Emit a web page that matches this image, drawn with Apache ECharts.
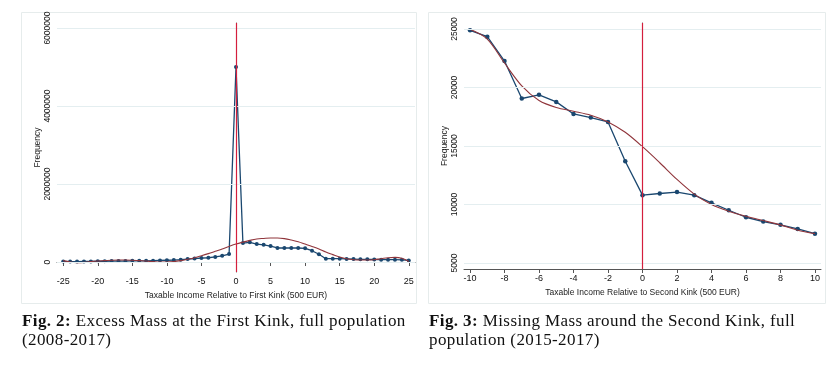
<!DOCTYPE html>
<html>
<head>
<meta charset="utf-8">
<script src="https://cdn.jsdelivr.net/npm/echarts@6/dist/echarts.min.js"></script>
<style>
  html, body { margin:0; padding:0; background:#fff; }
  #wrap { position:relative; width:836px; height:366px; overflow:hidden; }
  #chart { position:absolute; left:0; top:0; width:836px; height:366px; }
  .cap { position:absolute; font-family:"Liberation Serif","DejaVu Serif",serif; font-size:17px; letter-spacing:0.4px; line-height:19px; color:#111; white-space:nowrap; }
  .cap b { font-weight:bold; }
</style>
</head>
<body>
<div id="wrap">
  <div id="chart"></div>
  <div class="cap" style="left:22px; top:311px;"><b>Fig. 2:</b> Excess Mass at the First Kink, full population<br>(2008-2017)</div>
  <div class="cap" style="left:429px; top:311px;"><b>Fig. 3:</b> Missing Mass around the Second Kink, full<br>population (2015-2017)</div>
</div>
<script>
// ---- Fig. 2 data (first kink) ----
const xFirst = [-25,-24,-23,-22,-21,-20,-19,-18,-17,-16,-15,-14,-13,-12,-11,-10,-9,-8,-7,-6,-5,-4,-3,-2,-1,0,1,2,3,4,5,6,7,8,9,10,11,12,13,14,15,16,17,18,19,20,21,22,23,24,25];
const freqFirst = [15000,12000,12000,14000,15000,20000,20000,25000,25000,25000,30000,30000,30000,35000,40000,45000,50000,60000,75000,90000,100000,110000,130000,160000,205000,5000000,487000,505000,460000,440000,410000,360000,360000,360000,360000,350000,290000,200000,85000,85000,85000,80000,75000,70000,70000,65000,60000,60000,60000,55000,40000];
const fitFirst = [35000,0,-15000,-10000,10000,25000,35000,45000,50000,50000,45000,35000,25000,10000,0,0,10000,35000,70000,110000,160000,215000,275000,335000,400000,460000,510000,555000,590000,605000,615000,615000,600000,565000,520000,460000,400000,335000,255000,190000,130000,85000,60000,50000,50000,60000,85000,110000,120000,95000,15000];
const xTicksFirst = [-25,-20,-15,-10,-5,0,5,10,15,20,25];
const yTicksFirst = [0,2000000,4000000,6000000];

// ---- Fig. 3 data (second kink) ----
const xSecond = [-10,-9,-8,-7,-6,-5,-4,-3,-2,-1,0,1,2,3,4,5,6,7,8,9,10];
const freqSecond = [24890,24340,22260,19060,19370,18770,17740,17430,17060,13690,10800,10940,11060,10800,10140,9510,8910,8540,8260,7910,7510];
const fitSecond = [24970,24140,22090,20140,18890,18290,17970,17630,17060,16170,14940,13570,12140,10890,10000,9430,9000,8630,8260,7800,7510];
const xTicksSecond = [-10,-8,-6,-4,-2,0,2,4,6,8,10];
const yTicksSecond = [5000,10000,15000,20000,25000];

const kinkX = 0;

const navy = '#1a476f', maroon = '#90353b', vred = '#d41f3d', gridC = '#e4eef0', axisC = '#555';
const FONT = '"Liberation Sans", Arial, sans-serif';

function pairs(xs, ys){ return xs.map((x,i)=>[x, ys[i]]); }
const plain = v => String(v);

function xAxisCfg(grid, min, max, ticks, name){
  return {
    type:'value', gridIndex:grid, min:min, max:max,
    name:name, nameLocation:'middle', nameGap:13,
    nameTextStyle:{fontFamily:FONT, fontSize:8.5, color:'#222'},
    axisLine:{show:true, lineStyle:{color:axisC, width:1}},
    axisTick:{show:true, length:4, customValues:ticks, lineStyle:{color:axisC}},
    axisLabel:{customValues:ticks, formatter:plain, fontFamily:FONT, fontSize:9, color:'#111', margin:5},
    splitLine:{show:false}
  };
}
function yAxisCfg(grid, min, max, ticks, gap){
  return {
    type:'value', gridIndex:grid, min:min, max:max,
    name:'Frequency', nameLocation:'middle', nameGap:gap, nameRotate:90,
    nameTextStyle:{fontFamily:FONT, fontSize:8.5, color:'#222'},
    axisLine:{show:true, lineStyle:{color:axisC, width:1}},
    axisTick:{show:true, length:4, customValues:ticks, lineStyle:{color:axisC}},
    axisLabel:{customValues:ticks, formatter:plain, rotate:90, fontFamily:FONT, fontSize:8.5, color:'#111', margin:5},
    splitLine:{show:false}
  };
}
function gridLines(ticks){
  return {
    silent:true, symbol:['none','none'], label:{show:false},
    lineStyle:{color:gridC, width:1, type:'solid'},
    data: ticks.map(v=>({yAxis:v}))
  };
}

const chart = echarts.init(document.getElementById('chart'), null, {renderer:'canvas'});
chart.setOption({
  animation:false,
  backgroundColor:'#fff',
  graphic:[
    {type:'rect', shape:{x:21.5, y:12.5, width:395, height:291}, style:{fill:'none', stroke:'#e6ecec', lineWidth:1}, z:-10},
    {type:'rect', shape:{x:428.5, y:12.5, width:397, height:291}, style:{fill:'none', stroke:'#e6ecec', lineWidth:1}, z:-10}
  ],
  grid:[
    {left:57, top:23, width:358, height:249},
    {left:464, top:23, width:357, height:246}
  ],
  xAxis:[
    xAxisCfg(0, -25.9, 25.9, xTicksFirst, 'Taxable Income Relative to First Kink (500 EUR)'),
    xAxisCfg(1, -10.35, 10.35, xTicksSecond, 'Taxable Income Relative to Second Kink (500 EUR)')
  ],
  yAxis:[
    yAxisCfg(0, -256000, 6130000, yTicksFirst, 15),
    yAxisCfg(1, 4487, 25513, yTicksSecond, 15)
  ],
  series:[
    {type:'line', xAxisIndex:0, yAxisIndex:0, data:pairs(xFirst, freqFirst), z:3,
     symbol:'circle', symbolSize:4, showSymbol:true,
     itemStyle:{color:navy}, lineStyle:{color:navy, width:1.3},
     markLine:gridLines(yTicksFirst)},
    {type:'line', xAxisIndex:0, yAxisIndex:0, data:pairs(xFirst, fitFirst), z:4,
     smooth:0.4, symbol:'none', lineStyle:{color:maroon, width:1.1},
     markLine:{silent:true, symbol:['none','none'], label:{show:false},
       lineStyle:{color:vred, width:1.2, type:'solid'}, data:[{xAxis:kinkX}]}},
    {type:'line', xAxisIndex:1, yAxisIndex:1, data:pairs(xSecond, freqSecond), z:3,
     symbol:'circle', symbolSize:4.5, showSymbol:true,
     itemStyle:{color:navy}, lineStyle:{color:navy, width:1.3},
     markLine:gridLines(yTicksSecond)},
    {type:'line', xAxisIndex:1, yAxisIndex:1, data:pairs(xSecond, fitSecond), z:4,
     smooth:0.3, symbol:'none', lineStyle:{color:maroon, width:1.1},
     markLine:{silent:true, symbol:['none','none'], label:{show:false},
       lineStyle:{color:vred, width:1.2, type:'solid'}, data:[{xAxis:kinkX}]}}
  ]
});
</script>
</body>
</html>
